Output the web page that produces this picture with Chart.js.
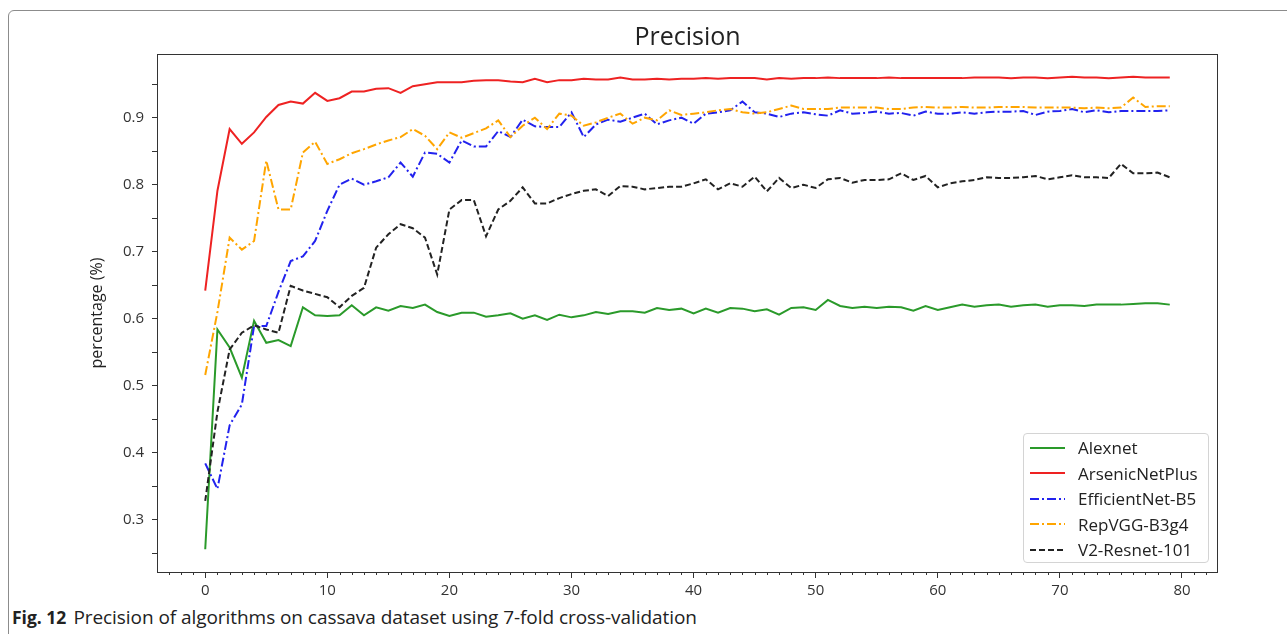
<!DOCTYPE html>
<html>
<head>
<meta charset="utf-8">
<title>Precision</title>
<script src="https://cdn.jsdelivr.net/npm/chart.js@4.4.1/dist/chart.umd.min.js"></script>
<style>
  body { margin: 0; background: #fff; font-family: "Open Sans", sans-serif; }
  #page { position: relative; width: 1287px; height: 634px; overflow: hidden; background: #fff; }
  #frame { position: absolute; left: 8px; top: 10px; width: 1320px; height: 700px;
           border: 1px solid #8c8c8c; border-radius: 6px; box-sizing: border-box; }
  #plot { position: absolute; left: 0; top: 0; }
  #legend { position: absolute; left: 1023px; top: 433px; width: 186px; height: 130px;
            box-sizing: border-box; border: 1px solid #d4d4d4; border-radius: 4px;
            background: rgba(255,255,255,0.85); padding-top: 1px; }
  .lg-row { height: 25.5px; display: flex; align-items: center; font-size: 17px; color: #222; }
  .lg-row svg { margin-left: 6px; margin-right: 13px; }
  #caption { position: absolute; left: 12px; top: 604px; font-size: 19px; color: #222; white-space: nowrap; letter-spacing: -0.06px; }
  #caption b { font-size: 17.5px; margin-right: 7px; letter-spacing: 0; }
</style>
</head>
<body>
<div id="page">
  <div id="frame"></div>
  <canvas id="plot" width="1287" height="602"></canvas>
  <div id="legend"></div>
  <div id="caption"><b>Fig. 12</b>Precision of algorithms on cassava dataset using 7-fold cross-validation</div>
</div>
<script>
  // values, one per epoch (0..79)
  const alexnet = [
    0.256, 0.584, 0.557, 0.512, 0.597, 0.564, 0.568, 0.559, 0.617, 0.605,
    0.604, 0.605, 0.620, 0.605, 0.617, 0.612, 0.619, 0.616, 0.621, 0.610,
    0.604, 0.609, 0.609, 0.603, 0.605, 0.608, 0.600, 0.605, 0.598, 0.606,
    0.602, 0.605, 0.610, 0.607, 0.611, 0.611, 0.609, 0.616, 0.613, 0.615,
    0.608, 0.615, 0.609, 0.616, 0.615, 0.611, 0.614, 0.606, 0.616, 0.617,
    0.613, 0.628, 0.619, 0.616, 0.618, 0.616, 0.618, 0.617, 0.612, 0.619,
    0.613, 0.617, 0.621, 0.618, 0.620, 0.621, 0.618, 0.620, 0.621, 0.618,
    0.620, 0.620, 0.619, 0.621, 0.621, 0.621, 0.622, 0.623, 0.623, 0.621
  ];
  const arsenicNetPlus = [
    0.642, 0.791, 0.883, 0.861, 0.878, 0.901, 0.919, 0.924, 0.921, 0.937,
    0.925, 0.929, 0.939, 0.939, 0.943, 0.944, 0.937, 0.947, 0.950, 0.953,
    0.953, 0.953, 0.955, 0.956, 0.956, 0.954, 0.953, 0.958, 0.953, 0.956,
    0.956, 0.958, 0.957, 0.957, 0.960, 0.957, 0.957, 0.958, 0.957, 0.958,
    0.958, 0.959, 0.958, 0.959, 0.959, 0.959, 0.957, 0.959, 0.958, 0.959,
    0.959, 0.960, 0.959, 0.959, 0.959, 0.959, 0.960, 0.959, 0.959, 0.959,
    0.959, 0.959, 0.959, 0.960, 0.960, 0.960, 0.959, 0.960, 0.960, 0.959,
    0.960, 0.961, 0.960, 0.960, 0.959, 0.960, 0.961, 0.960, 0.960, 0.960
  ];
  const efficientNetB5 = [
    0.384, 0.346, 0.441, 0.472, 0.589, 0.589, 0.640, 0.686, 0.693, 0.716,
    0.761, 0.800, 0.809, 0.800, 0.805, 0.811, 0.833, 0.812, 0.848, 0.846,
    0.833, 0.866, 0.857, 0.857, 0.880, 0.871, 0.897, 0.887, 0.886, 0.886,
    0.908, 0.871, 0.890, 0.897, 0.894, 0.900, 0.906, 0.890, 0.896, 0.900,
    0.891, 0.906, 0.908, 0.911, 0.924, 0.908, 0.906, 0.901, 0.906, 0.908,
    0.905, 0.903, 0.911, 0.906, 0.907, 0.909, 0.906, 0.907, 0.903, 0.909,
    0.906, 0.906, 0.908, 0.906, 0.908, 0.909, 0.909, 0.910, 0.904, 0.909,
    0.910, 0.913, 0.908, 0.911, 0.908, 0.910, 0.910, 0.910, 0.910, 0.911
  ];
  const repVGGB3g4 = [
    0.516, 0.610, 0.721, 0.703, 0.716, 0.836, 0.763, 0.763, 0.848, 0.864,
    0.831, 0.838, 0.847, 0.853, 0.860, 0.866, 0.871, 0.883, 0.873, 0.853,
    0.878, 0.870, 0.877, 0.884, 0.896, 0.871, 0.888, 0.900, 0.883, 0.906,
    0.903, 0.888, 0.893, 0.900, 0.906, 0.891, 0.900, 0.896, 0.911, 0.904,
    0.906, 0.908, 0.911, 0.913, 0.908, 0.906, 0.908, 0.913, 0.918, 0.913,
    0.913, 0.913, 0.915, 0.915, 0.915, 0.915, 0.913, 0.913, 0.915, 0.916,
    0.915, 0.915, 0.916, 0.915, 0.915, 0.916, 0.916, 0.916, 0.915, 0.915,
    0.915, 0.915, 0.914, 0.915, 0.914, 0.915, 0.930, 0.916, 0.917, 0.917
  ];
  const v2Resnet101 = [
    0.328, 0.461, 0.554, 0.579, 0.590, 0.584, 0.579, 0.649, 0.642, 0.637,
    0.632, 0.617, 0.634, 0.646, 0.706, 0.726, 0.741, 0.735, 0.721, 0.666,
    0.763, 0.777, 0.777, 0.723, 0.763, 0.776, 0.796, 0.772, 0.772, 0.780,
    0.786, 0.791, 0.793, 0.783, 0.798, 0.797, 0.793, 0.795, 0.797, 0.797,
    0.802, 0.808, 0.793, 0.802, 0.797, 0.812, 0.790, 0.810, 0.795, 0.800,
    0.795, 0.808, 0.810, 0.803, 0.807, 0.807, 0.808, 0.817, 0.807, 0.813,
    0.796, 0.802, 0.805, 0.807, 0.811, 0.810, 0.810, 0.811, 0.813, 0.808,
    0.811, 0.814, 0.811, 0.811, 0.810, 0.831, 0.817, 0.817, 0.818, 0.811
  ];

  const seriesNames = ['Alexnet', 'ArsenicNetPlus', 'EfficientNet-B5', 'RepVGG-B3g4', 'V2-Resnet-101'];
  const seriesValues = [alexnet, arsenicNetPlus, efficientNetB5, repVGGB3g4, v2Resnet101];
  const seriesColors = ['#2a9a2a', '#ee2222', '#2222ee', '#ffa500', '#222222'];
  const seriesDashes = [[], [], [9, 3, 2, 3], [9, 3, 2, 3], [6, 3]];

  const xTickValues = [0, 10, 20, 30, 40, 50, 60, 70, 80];
  const yTickValues = [0.3, 0.4, 0.5, 0.6, 0.7, 0.8, 0.9];

  const epochs = alexnet.map(function (_, i) { return i; });

  // minor ticks every epoch on x and every 0.05 on y
  const xMinor = [];
  for (let v = -3; v <= 82; v++) if (v % 10 !== 0) xMinor.push(v);
  const yMinor = [0.25, 0.35, 0.45, 0.55, 0.65, 0.75, 0.85, 0.95];

  const axisColor = '#333';
  const frameAndMinor = {
    id: 'frameAndMinor',
    afterDraw: function (chart) {
      const ctx = chart.ctx;
      const a = chart.chartArea;
      const xs = chart.scales.x;
      const ys = chart.scales.y;
      ctx.save();
      ctx.strokeStyle = axisColor;
      ctx.lineWidth = 1;
      ctx.beginPath();
      xMinor.forEach(function (v) {
        const px = Math.round(xs.getPixelForValue(v)) + 0.5;
        ctx.moveTo(px, a.bottom);
        ctx.lineTo(px, a.bottom + 3);
      });
      yMinor.forEach(function (v) {
        const py = Math.round(ys.getPixelForValue(v)) + 0.5;
        ctx.moveTo(a.left, py);
        ctx.lineTo(a.left - 5, py);
      });
      ctx.stroke();
      ctx.strokeRect(Math.round(a.left) + 0.5, Math.round(a.top) + 0.5,
        Math.round(a.right - a.left) - 1, Math.round(a.bottom - a.top));
      ctx.restore();
    }
  };

  const datasets = seriesNames.map(function (name, i) {
    return {
      label: name,
      data: seriesValues[i].map(function (v, j) { return { x: epochs[j], y: v }; }),
      borderColor: seriesColors[i],
      borderWidth: 2,
      borderDash: seriesDashes[i],
      pointRadius: 0,
      fill: false,
      tension: 0,
      order: seriesNames.length - i
    };
  });

  new Chart(document.getElementById('plot').getContext('2d'), {
    type: 'line',
    data: { datasets: datasets },
    plugins: [frameAndMinor],
    options: {
      responsive: false,
      animation: false,
      layout: { padding: { left: 0, right: 69, top: 0, bottom: 0 } },
      plugins: {
        legend: { display: false },
        tooltip: { enabled: false },
        title: {
          display: true,
          fullSize: false,
          text: 'Precision',
          color: '#222',
          font: { family: 'Open Sans', size: 25, weight: 'normal' },
          padding: { top: 23, bottom: 1 }
        }
      },
      scales: {
        x: {
          type: 'linear',
          min: -3.95,
          max: 82.95,
          afterBuildTicks: function (s) { s.ticks = xTickValues.map(function (v) { return { value: v }; }); },
          afterFit: function (s) { s.height = 30; },
          border: { display: false },
          grid: { drawOnChartArea: false, tickLength: 6, color: axisColor },
          ticks: {
            color: '#333',
            padding: 4,
            maxRotation: 0,
            font: { family: 'Open Sans', size: 15 },
            callback: function (v) { return String(v); }
          }
        },
        y: {
          type: 'linear',
          min: 0.222,
          max: 0.995,
          afterBuildTicks: function (s) { s.ticks = yTickValues.map(function (v) { return { value: v }; }); },
          afterFit: function (s) { s.width = 157; },
          border: { display: false },
          grid: { drawOnChartArea: false, tickLength: 5, color: axisColor },
          title: {
            display: true,
            text: 'percentage (%)',
            color: '#222',
            font: { family: 'Open Sans', size: 16 },
            padding: { top: 88, bottom: 0 }
          },
          ticks: {
            color: '#333',
            padding: 8,
            font: { family: 'Open Sans', size: 15 },
            callback: function (v) { return v.toFixed(1); }
          }
        }
      }
    }
  });

  // legend built from the same series lists
  const legendEl = document.getElementById('legend');
  seriesNames.forEach(function (name, i) {
    const row = document.createElement('div');
    row.className = 'lg-row';
    const dash = seriesDashes[i].length ? ' stroke-dasharray="' + seriesDashes[i].join(' ') + '"' : '';
    row.innerHTML = '<svg width="35" height="6"><line x1="0" y1="3" x2="35" y2="3" stroke="' +
      seriesColors[i] + '" stroke-width="2"' + dash + '/></svg><span></span>';
    row.querySelector('span').textContent = name;
    legendEl.appendChild(row);
  });
</script>
</body>
</html>
